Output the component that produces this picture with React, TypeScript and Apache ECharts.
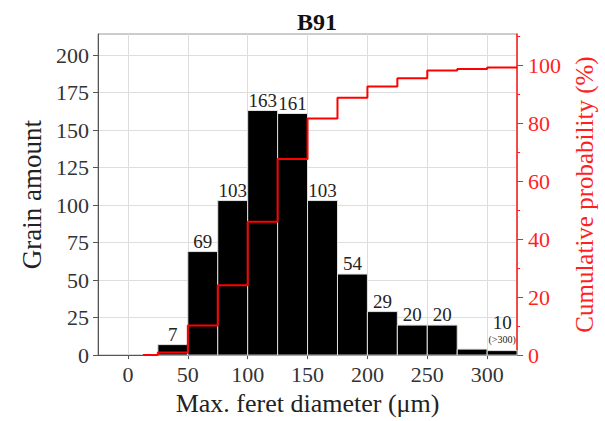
import React, { useEffect, useRef } from 'react';
import * as echarts from 'echarts';

const binStarts = [25, 50, 75, 100, 125, 150, 175, 200, 225, 250, 275, 300];
const binWidth = 25;
const grainCounts = [7, 69, 103, 163, 161, 103, 54, 29, 20, 20, 4, 3];
const barLabels = ['7', '69', '103', '163', '161', '103', '54', '29', '20', '20', '', '10'];
const barSubLabels = ['', '', '', '', '', '', '', '', '', '', '', '(>300)'];
const cumEdges = [12.5, 25, 50, 75, 100, 125, 150, 175, 200, 225, 250, 275, 300, 325];
const cumPercent = [0, 0.9, 10.2, 24.1, 46.0, 67.7, 81.6, 88.8, 92.7, 95.5, 98.2, 98.7, 99.2, 99.2];
const xTicks = [0, 50, 100, 150, 200, 250, 300];
const leftTicks = [0, 25, 50, 75, 100, 125, 150, 175, 200];
const rightTicks = [0, 20, 40, 60, 80, 100];

const FONT = 'Liberation Serif, Times New Roman, serif';
const RED = '#ff1f1f';
const AXIS = '#555';

export default function App() {
  const ref = useRef<HTMLDivElement>(null);
  useEffect(() => {
    const chart = echarts.init(ref.current!, null, { renderer: 'svg' });
    const barData = binStarts.map((s, i) => [s, grainCounts[i]]);
    const lineData = cumEdges.map((x, i) => [x, cumPercent[i]]);
    chart.setOption({
      animation: false,
      textStyle: { fontFamily: FONT },
      title: {
        text: 'B91',
        left: 292,
        top: 5,
        textStyle: { fontFamily: FONT, fontSize: 24, fontWeight: 'bold', color: '#111' },
      },
      grid: {
        left: 98,
        right: 84,
        top: 34,
        bottom: 65,
        show: true,
        borderColor: '#999',
        borderWidth: 1,
      },
      xAxis: {
        type: 'value',
        min: -25,
        max: 325,
        name: 'Max. feret diameter (μm)',
        nameLocation: 'middle',
        nameGap: 32,
        nameTextStyle: { fontFamily: FONT, fontSize: 26, color: '#222' },
        axisLine: { show: true, onZero: false, lineStyle: { color: AXIS } },
        axisTick: { show: true, customValues: xTicks, length: 4, lineStyle: { color: AXIS } },
        axisLabel: { customValues: xTicks, fontFamily: FONT, fontSize: 22, color: '#333', margin: 8 },
        splitLine: { show: true, lineStyle: { color: '#ddd' } },
      },
      yAxis: [
        {
          type: 'value',
          min: 0,
          max: 214,
          name: 'Grain amount',
          nameLocation: 'middle',
          nameGap: 49,
          nameTextStyle: { fontFamily: FONT, fontSize: 27, color: '#222' },
          axisLine: { show: true, onZero: false, lineStyle: { color: AXIS } },
          axisTick: { show: true, customValues: leftTicks, length: 5, lineStyle: { color: AXIS } },
          minorTick: { show: true, splitNumber: 2, length: 3, lineStyle: { color: AXIS } },
          axisLabel: { customValues: leftTicks, fontFamily: FONT, fontSize: 22, color: '#333', margin: 9 },
          splitLine: { show: true, lineStyle: { color: '#ddd' } },
        },
        {
          type: 'value',
          position: 'right',
          min: 0,
          max: 110.8,
          name: 'Cumulative probability (%)',
          nameLocation: 'middle',
          nameGap: 50,
          nameRotate: 90,
          nameTextStyle: { fontFamily: FONT, fontSize: 25, color: RED },
          axisLine: { show: true, onZero: false, lineStyle: { color: RED, width: 1.5 } },
          axisTick: { show: true, customValues: rightTicks, length: 6, lineStyle: { color: RED } },
          minorTick: { show: true, splitNumber: 2, length: 3, lineStyle: { color: RED } },
          axisLabel: { customValues: rightTicks, fontFamily: FONT, fontSize: 22, color: RED, margin: 11 },
          splitLine: { show: false },
        },
      ],
      series: [
        {
          type: 'custom',
          xAxisIndex: 0,
          yAxisIndex: 0,
          data: barData,
          clip: false,
          renderItem: (params: any, api: any) => {
            const x0 = api.value(0);
            const v = api.value(1);
            const p0 = api.coord([x0, v]);
            const p1 = api.coord([x0 + binWidth, 0]);
            const cx = (p0[0] + p1[0]) / 2;
            const children: any[] = [
              {
                type: 'rect',
                shape: { x: p0[0], y: p0[1], width: p1[0] - p0[0], height: p1[1] - p0[1] },
                style: { fill: '#000', stroke: '#e0e0e0', lineWidth: 1 },
              },
            ];
            const lab = barLabels[params.dataIndex];
            const sub = barSubLabels[params.dataIndex];
            if (sub) {
              children.push({
                type: 'text',
                x: cx,
                y: p0[1] - 6,
                style: { text: sub, font: `10px ${FONT}`, fill: '#222', align: 'center', verticalAlign: 'bottom' },
              });
              children.push({
                type: 'text',
                x: cx,
                y: p0[1] - 19,
                style: { text: lab, font: `19px ${FONT}`, fill: '#222', align: 'center', verticalAlign: 'bottom' },
              });
            } else if (lab) {
              children.push({
                type: 'text',
                x: cx,
                y: p0[1] - 1,
                style: { text: lab, font: `19px ${FONT}`, fill: '#222', align: 'center', verticalAlign: 'bottom' },
              });
            }
            return { type: 'group', children };
          },
          z: 2,
        },
        {
          type: 'line',
          xAxisIndex: 0,
          yAxisIndex: 1,
          step: 'end',
          data: lineData,
          symbol: 'none',
          lineStyle: { color: '#ff0000', width: 2 },
          z: 3,
        },
      ],
    });
    return () => chart.dispose();
  }, []);
  return <div ref={ref} style={{ width: 605, height: 421, position: 'absolute', left: 0, top: 0 }} />;
}
